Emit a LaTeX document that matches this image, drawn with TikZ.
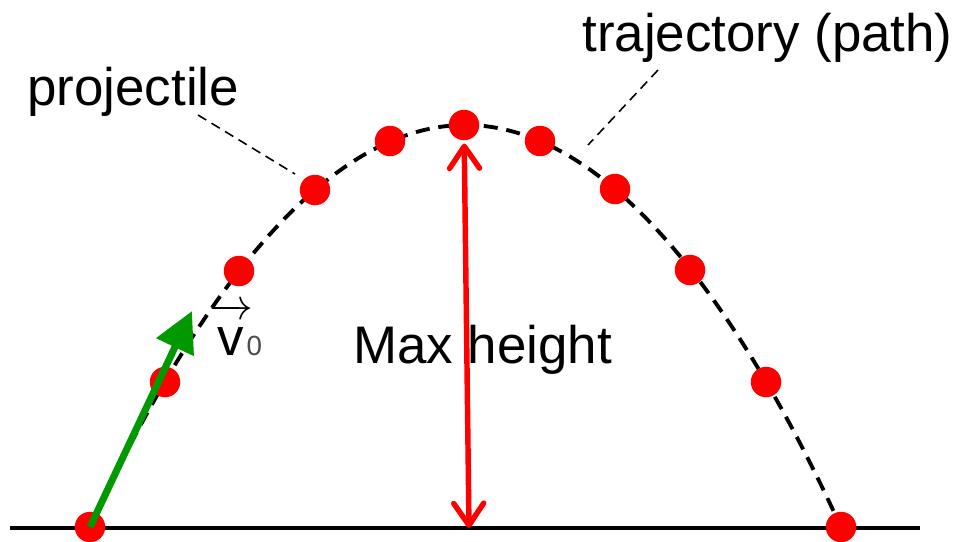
\documentclass[tikz,border=0pt]{standalone}
\usepackage{fontspec}
\setmainfont{Liberation Sans}
\usepackage{tikz}
\usetikzlibrary{arrows.meta}
\tikzset{
  dot/.style={circle,fill=red,minimum size=0.61cm,inner sep=0pt},
  ground/.style={line width=2pt},
  trajline/.style={line width=2.2pt,dash pattern=on 8pt off 5pt},
  leader/.style={line width=0.9pt,dash pattern=on 5.5pt off 3.5pt},
  heightarrow/.style={{Straight Barb[length=4.4mm,width=6mm,round]}-{Straight Barb[length=4.4mm,width=6mm,round]},red,line width=3.1pt},
  velocity/.style={-{Triangle[length=8mm,width=8mm]},green!60!black,line width=4pt},
  lbl/.style={inner sep=0pt,font=\fontsize{30.1}{36}\selectfont}
}

\begin{document}
\begin{tikzpicture}[x=0.02cm,y=-0.02cm]
\useasboundingbox (0,0) rectangle (959,541);

% Ground line
\coordinate (groundL) at (10,528);
\coordinate (groundR) at (920,528);
\draw[ground] (groundL) -- (groundR);

% Trajectory, a parabola from launch to landing
\coordinate (launch) at (90,527);
\coordinate (apex) at (465.5,125);
\coordinate (landing) at (841,527);
\draw[trajline] (launch) parabola bend (apex) (landing);

% Labels
\node[lbl,anchor=base west] (projlbl) at (27,105) {projectile};
\node[lbl,anchor=base west] (trajlbl) at (582,51) {trajectory (path)};
\node[lbl,anchor=base west] (maxlbl) at (353,363) {Max height};
\node[lbl,anchor=base west] (v0lbl) at (209,355)
  {$\overrightarrow{\hbox{v\rule{0pt}{0.7em}}}$\kern-0.12em\textcolor{black!70}{\fontsize{15.8}{18}\selectfont 0}};

% Leader lines
\coordinate (projA) at (198,115);
\coordinate (projB) at (295,174);
\coordinate (trajA) at (658,70);
\coordinate (trajB) at (588,145);
\draw[leader] (projA) -- (projB);
\draw[leader] (trajA) -- (trajB);

% Positions of the projectile
\foreach \n/\x/\y in {p1/90/527, p2/165/382, p3/239/271, p4/315/190,
  p5/390/141, p6/464/125, p7/540/141, p8/615/189, p9/690/270,
  p10/766/382, p11/841/527}
{
  \node[dot] (\n) at (\x,\y) {};
}

% Initial velocity
\coordinate (v0tip) at (192,311);
\draw[velocity] (p1.center) -- (v0tip);

% Max height
\coordinate (hBase) at (469,528);
\draw[heightarrow,shorten <=0.06cm] (p6) -- (hBase);

\end{tikzpicture}
\end{document}
